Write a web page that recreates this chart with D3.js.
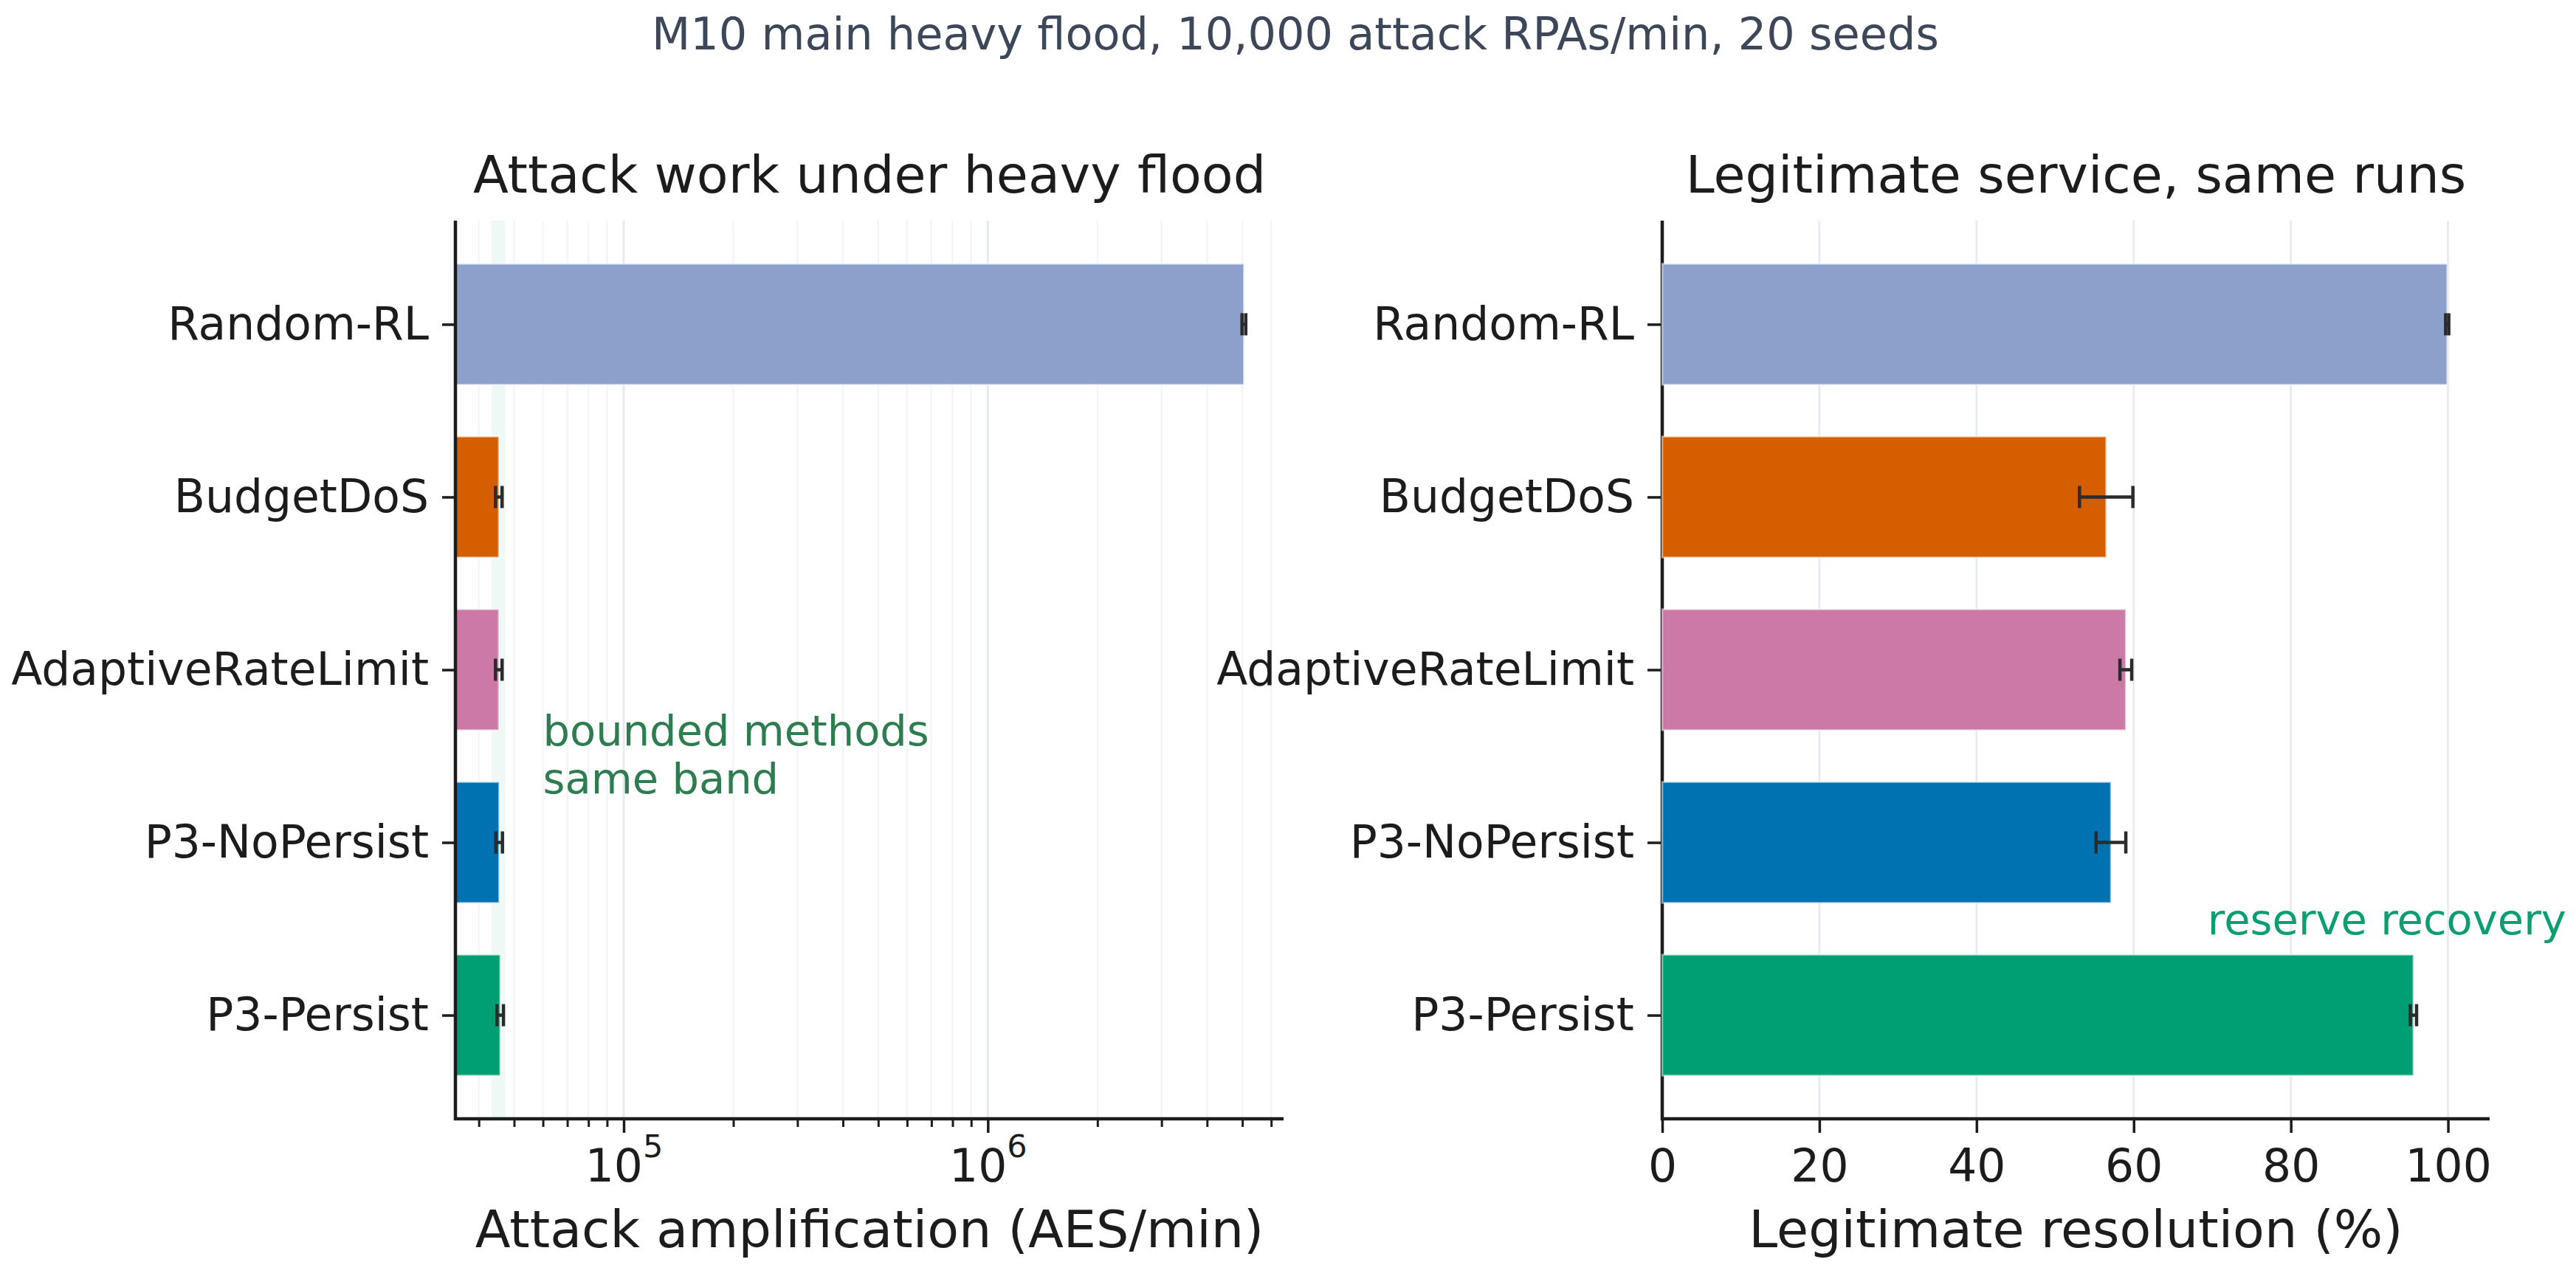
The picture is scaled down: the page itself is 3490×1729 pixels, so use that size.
<!DOCTYPE html>
<html>
<head>
<meta charset="utf-8">
<script src="https://cdn.jsdelivr.net/npm/d3@7"></script>
<style>
  html, body { margin: 0; padding: 0; background: #ffffff; }
  svg { display: block; font-family: "DejaVu Sans", sans-serif; }
</style>
</head>
<body>
<svg id="chart" width="3490" height="1729"></svg>
<script>
// ---- data ----
const methods = ["Random-RL", "BudgetDoS", "AdaptiveRateLimit", "P3-NoPersist", "P3-Persist"];
const methodColors = ["#8da0cb", "#d55e00", "#cc79a7", "#0072b2", "#009e73"];
const attackMean = [5050000, 45400, 45400, 45500, 45800];
const attackErr = [60000, 950, 950, 950, 950];
const legitMean = [99.9, 56.5, 59.0, 57.1, 95.6];
const legitErr = [0.2, 3.4, 0.75, 1.9, 0.4];
const attackMajorTicks = [1e5, 1e6];
const attackMinorTicks = [4e4, 5e4, 6e4, 7e4, 8e4, 9e4, 2e5, 3e5, 4e5, 5e5, 6e5, 7e5, 8e5, 9e5, 2e6, 3e6, 4e6, 5e6, 6e6];
const legitTicks = [0, 20, 40, 60, 80, 100];
const boundedBand = [43400, 47300];
const attackDomain = [34500, 6490000];
const legitDomain = [0, 105.3];

const suptitle = "M10 main heavy flood, 10,000 attack RPAs/min, 20 seeds";
const leftTitle = "Attack work under heavy flood";
const rightTitle = "Legitimate service, same runs";
const leftXLabel = "Attack amplification (AES/min)";
const rightXLabel = "Legitimate resolution (%)";
const noteBounded = ["bounded methods", "same band"];
const noteReserve = "reserve recovery";

// ---- layout ----
const svg = d3.select("#chart");
const plotTop = 299, plotBottom = 1516;
const L = { x0: 617, x1: 1739 };
const R = { x0: 2252, x1: 3373 };
const barH = 0.7;

const y = d3.scaleLinear().domain([-0.6, 4.6]).range([plotTop, plotBottom]);
const xL = d3.scaleLog().domain(attackDomain).range([L.x0, L.x1]);
const xR = d3.scaleLinear().domain(legitDomain).range([R.x0, R.x1]);

const TICK_FONT = 61.5, LABEL_FONT = 70, NOTE_FONT = 57.5;
const ink = "#1c1c1c";

svg.append("defs").append("clipPath").attr("id", "clipL")
  .append("rect").attr("x", L.x0).attr("y", plotTop).attr("width", L.x1 - L.x0).attr("height", plotBottom - plotTop);

// ---- suptitle ----
svg.append("text").attr("x", 1755).attr("y", 67).attr("text-anchor", "middle")
  .attr("font-size", 60.5).attr("fill", "#3d475a").text(suptitle);

// ===================== LEFT PANEL =====================
const gL = svg.append("g");
gL.selectAll("line.minor").data(attackMinorTicks).join("line")
  .attr("x1", d => xL(d)).attr("x2", d => xL(d)).attr("y1", plotTop).attr("y2", plotBottom)
  .attr("stroke", "#f3f5f8").attr("stroke-width", 2.5);
gL.selectAll("line.major").data(attackMajorTicks).join("line")
  .attr("x1", d => xL(d)).attr("x2", d => xL(d)).attr("y1", plotTop).attr("y2", plotBottom)
  .attr("stroke", "#e5e9f0").attr("stroke-width", 3);
gL.append("rect").attr("x", xL(boundedBand[0])).attr("y", plotTop)
  .attr("width", xL(boundedBand[1]) - xL(boundedBand[0])).attr("height", plotBottom - plotTop)
  .attr("fill", "#009e73").attr("fill-opacity", 0.065);
const barsL = gL.append("g").attr("clip-path", "url(#clipL)");
barsL.selectAll("rect").data(methods).join("rect")
  .attr("x", L.x0 - 20)
  .attr("y", (d, i) => y(i - barH / 2))
  .attr("width", (d, i) => xL(attackMean[i]) - (L.x0 - 20))
  .attr("height", y(barH) - y(0))
  .attr("fill", (d, i) => methodColors[i])
  .attr("stroke", "#ffffff").attr("stroke-opacity", 0.5).attr("stroke-width", 2.5);

function errBars(g, xs, means, errs) {
  const eg = g.append("g").attr("stroke", "#2b2b2b").attr("stroke-width", 4.5).attr("fill", "none");
  methods.forEach((m, i) => {
    const a = xs(means[i] - errs[i]), b = xs(means[i] + errs[i]), yc = y(i);
    eg.append("line").attr("x1", a).attr("x2", b).attr("y1", yc).attr("y2", yc);
    eg.append("line").attr("x1", a).attr("x2", a).attr("y1", yc - 15).attr("y2", yc + 15);
    eg.append("line").attr("x1", b).attr("x2", b).attr("y1", yc - 15).attr("y2", yc + 15);
  });
}
errBars(gL, xL, attackMean, attackErr);

function styleAxis(g) {
  g.select(".domain").remove();
  g.selectAll(".tick line").attr("stroke", ink).attr("stroke-width", 3.5);
  g.selectAll(".tick text").attr("fill", ink).attr("font-size", TICK_FONT).attr("font-family", "DejaVu Sans");
}
const yAxisL = d3.axisLeft(y).tickValues(d3.range(methods.length)).tickFormat(i => methods[i])
  .tickSize(18).tickPadding(18);
gL.append("g").attr("transform", `translate(${L.x0},0)`).call(yAxisL).call(styleAxis);

const xMinorL = d3.axisBottom(xL).tickValues(attackMinorTicks).tickSize(11).tickFormat("");
gL.append("g").attr("transform", `translate(0,${plotBottom})`).call(xMinorL).call(styleAxis)
  .selectAll(".tick line").attr("stroke-width", 3);
const xMajorL = d3.axisBottom(xL).tickValues(attackMajorTicks).tickSize(19).tickPadding(22).tickFormat(d => "10");
const xgL = gL.append("g").attr("transform", `translate(0,${plotBottom})`).call(xMajorL).call(styleAxis);
xgL.selectAll(".tick text").each(function(d) {
  const t = d3.select(this);
  t.text(null);
  t.append("tspan").text("10");
  t.append("tspan").attr("font-size", 43).attr("dy", "-0.75em").text(String(Math.round(Math.log10(d))));
});

gL.append("line").attr("x1", L.x0).attr("x2", L.x0).attr("y1", plotTop).attr("y2", plotBottom + 2)
  .attr("stroke", ink).attr("stroke-width", 4.5);
gL.append("line").attr("x1", L.x0 - 2).attr("x2", L.x1).attr("y1", plotBottom).attr("y2", plotBottom)
  .attr("stroke", ink).attr("stroke-width", 4.5);

gL.append("text").attr("x", (L.x0 + L.x1) / 2).attr("y", 261).attr("text-anchor", "middle")
  .attr("font-size", LABEL_FONT).attr("fill", ink).text(leftTitle);
gL.append("text").attr("x", (L.x0 + L.x1) / 2).attr("y", 1690).attr("text-anchor", "middle")
  .attr("font-size", LABEL_FONT).attr("fill", ink).text(leftXLabel);

const nb = gL.append("text").attr("x", xL(6e4)).attr("y", y(2.44))
  .attr("font-size", NOTE_FONT).attr("fill", "#2e7d50");
noteBounded.forEach((s, k) => nb.append("tspan").attr("x", xL(6e4)).attr("dy", k === 0 ? 0 : 65).text(s));

// ===================== RIGHT PANEL =====================
const gR = svg.append("g");
gR.selectAll("line.grid").data(legitTicks.filter(d => d > 0)).join("line")
  .attr("x1", d => xR(d)).attr("x2", d => xR(d)).attr("y1", plotTop).attr("y2", plotBottom)
  .attr("stroke", "#e8ecf2").attr("stroke-width", 3);

gR.append("line").attr("x1", R.x0).attr("x2", R.x0).attr("y1", plotTop).attr("y2", plotBottom + 2)
  .attr("stroke", ink).attr("stroke-width", 4.5);

gR.selectAll("rect.bar").data(methods).join("rect")
  .attr("x", xR(0))
  .attr("y", (d, i) => y(i - barH / 2))
  .attr("width", (d, i) => xR(legitMean[i]) - xR(0))
  .attr("height", y(barH) - y(0))
  .attr("fill", (d, i) => methodColors[i])
  .attr("stroke", "#ffffff").attr("stroke-opacity", 0.5).attr("stroke-width", 2.5);
errBars(gR, xR, legitMean, legitErr);

const yAxisR = d3.axisLeft(y).tickValues(d3.range(methods.length)).tickFormat(i => methods[i])
  .tickSize(18).tickPadding(18);
gR.append("g").attr("transform", `translate(${R.x0 - 2},0)`).call(yAxisR).call(styleAxis);
const xAxisR = d3.axisBottom(xR).tickValues(legitTicks).tickSize(19).tickPadding(22).tickFormat(d3.format("d"));
gR.append("g").attr("transform", `translate(0,${plotBottom})`).call(xAxisR).call(styleAxis);

gR.append("line").attr("x1", R.x0 - 2).attr("x2", R.x1).attr("y1", plotBottom).attr("y2", plotBottom)
  .attr("stroke", ink).attr("stroke-width", 4.5);

gR.append("text").attr("x", (R.x0 + R.x1) / 2).attr("y", 261).attr("text-anchor", "middle")
  .attr("font-size", LABEL_FONT).attr("fill", ink).text(rightTitle);
gR.append("text").attr("x", (R.x0 + R.x1) / 2).attr("y", 1690).attr("text-anchor", "middle")
  .attr("font-size", LABEL_FONT).attr("fill", ink).text(rightXLabel);

gR.append("text").attr("x", xR(69.4)).attr("y", y(3.53))
  .attr("font-size", NOTE_FONT).attr("fill", "#0c9d73").text(noteReserve);
</script>
</body>
</html>
